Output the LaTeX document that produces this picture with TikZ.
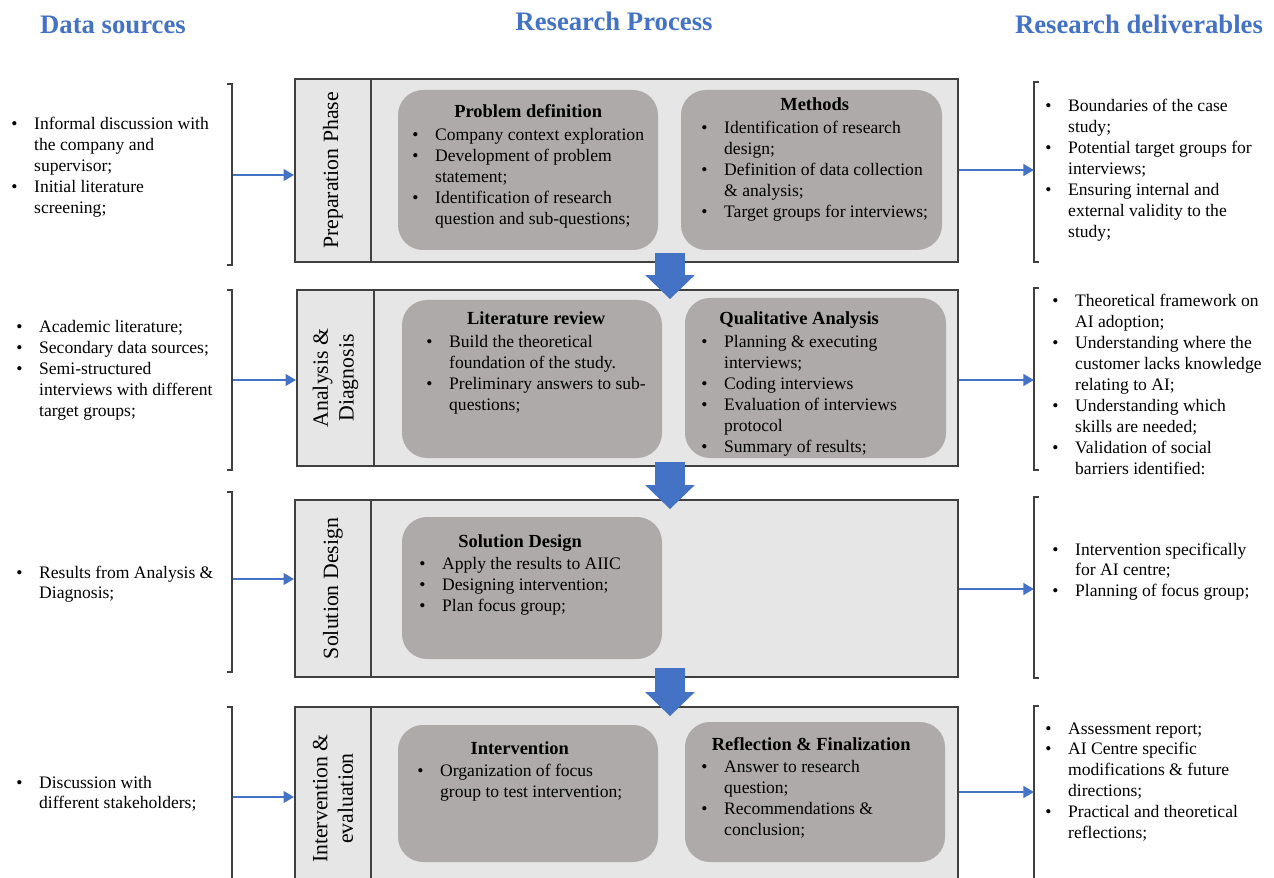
\documentclass[tikz,border=0pt]{standalone}
\usepackage{fontspec}
\setmainfont{Liberation Serif}
\usetikzlibrary{arrows.meta,fit,calc,positioning}

\definecolor{headblue}{HTML}{4472C4}
\definecolor{boxgray}{HTML}{E7E6E6}
\definecolor{cardgray}{HTML}{AEAAAA}
\definecolor{edgegray}{HTML}{404040}

% bullet cell and card title row
\newcommand{\bi}{\makebox[13pt][l]{\textbullet}&}
\newcommand{\cardtitle}[1]{\multicolumn{2}{c}{\fontsize{10.5}{11.9}\selectfont\bfseries #1}\\[1pt]}

\tikzset{
  head/.style={text=headblue, font=\fontsize{15.2}{18}\selectfont\bfseries, anchor=base},
  phase/.style={draw=edgegray, line width=1pt, fill=boxgray, inner sep=0pt},
  card/.style={fill=cardgray, rounded corners=0.5cm, inner sep=0pt},
  list/.style={font=\fontsize{10}{11.9}\selectfont, anchor=base west, inner sep=0pt},
  phaselabel/.style={rotate=90, align=center, font=\fontsize{12.4}{14.6}\selectfont},
  bracket/.style={draw=edgegray, line width=1pt},
  flow/.style={draw=headblue, line width=1.7pt, -{Triangle[length=6pt,width=6.5pt]}},
  bigarrow/.style={draw=headblue, line width=0.6cm, -{Triangle[length=0.48cm,width=0.96cm]}}
}

\begin{document}
\begin{tikzpicture}[x=0.02cm, y=-0.02cm]
\useasboundingbox (0,0) rectangle (1274,878);
\clip (0,0) rectangle (1274,878);

% column headings
\node[head] (hds) at (113,34) {Data sources};
\node[head] (hrp) at (614,31) {Research Process};
\node[head] (hrd) at (1139,34) {Research deliverables};

% phase 1
\node[phase, fit={(295,79)(958,262)}] (p1) {};
\node[phase, fit={(295,79)(371,262)}] (p1l) {};
\node[phaselabel] (p1t) at (p1l.center) {Preparation Phase};
\node[card, fit={(398,90)(658,250)}] (pd) {};
\node[list] (pdt) at (412,118) {\begin{tabular}[t]{@{}l@{}l@{}}\cardtitle{Problem definition}
\bi Company context exploration\\
\bi Development of problem\\
& statement;\\
\bi Identification of research\\
& question and sub-questions;
\end{tabular}};
\node[card, fit={(681,90)(942,250)}] (me) {};
\node[list] (met) at (701,111) {\begin{tabular}[t]{@{}l@{}l@{}}\cardtitle{Methods}
\bi Identification of research\\
& design;\\
\bi Definition of data collection\\
& \& analysis;\\
\bi Target groups for interviews;
\end{tabular}};

% phase 2
\node[phase, fit={(297,290)(958,466)}] (p2) {};
\node[phase, fit={(297,290)(374,466)}] (p2l) {};
\node[phaselabel] (p2t) at (p2l.center) {Analysis \&\\Diagnosis};
\node[card, fit={(402,300)(662,458)}] (lr) {};
\node[list] (lrt) at (426,325) {\begin{tabular}[t]{@{}l@{}l@{}}\cardtitle{Literature review}
\bi Build the theoretical\\
& foundation of the study.\\
\bi Preliminary answers to sub-\\
& questions;
\end{tabular}};
\node[card, fit={(685,298)(946,458)}] (qa) {};
\node[list] (qat) at (701,325) {\begin{tabular}[t]{@{}l@{}l@{}}\cardtitle{Qualitative Analysis}
\bi Planning \& executing\\
& interviews;\\
\bi Coding interviews\\
\bi Evaluation of interviews\\
& protocol\\
\bi Summary of results;
\end{tabular}};

% phase 3
\node[phase, fit={(295,500)(958,677)}] (p3) {};
\node[phase, fit={(295,500)(371,677)}] (p3l) {};
\node[phaselabel] (p3t) at (p3l.center) {Solution Design};
\node[card, fit={(402,517)(662,659)}] (sd) {};
\node[list] (sdt) at (419,547) {\begin{tabular}[t]{@{}l@{}l@{}}\cardtitle{Solution Design}
\bi Apply the results to AIIC\\
\bi Designing intervention;\\
\bi Plan focus group;
\end{tabular}};

% phase 4
\node[phase, fit={(295,707)(958,890)}] (p4) {};
\node[phase, fit={(295,707)(371,890)}] (p4l) {};
\node[phaselabel] (p4t) at (p4l.center) {Intervention \&\\evaluation};
\node[card, fit={(398,725)(658,862)}] (iv) {};
\node[list] (ivt) at (417,754) {\begin{tabular}[t]{@{}l@{}l@{}}\cardtitle{Intervention}
\bi Organization of focus\\
& group to test intervention;
\end{tabular}};
\node[card, fit={(685,722)(945,862)}] (rf) {};
\node[list] (rft) at (701,750) {\begin{tabular}[t]{@{}l@{}l@{}}\cardtitle{Reflection \& Finalization}
\bi Answer to research\\
& question;\\
\bi Recommendations \&\\
& conclusion;
\end{tabular}};

% data sources
\node[list] (ds1t) at (11,130) {\begin{tabular}[t]{@{}l@{}l@{}}
\bi Informal discussion with\\
& the company and\\
& supervisor;\\
\bi Initial literature\\
& screening;
\end{tabular}};
\node[list] (ds2t) at (16,333) {\begin{tabular}[t]{@{}l@{}l@{}}
\bi Academic literature;\\
\bi Secondary data sources;\\
\bi Semi-structured\\
& interviews with different\\
& target groups;
\end{tabular}};
\node[list] (ds3t) at (16,578) {\begin{tabular}[t]{@{}l@{}l@{}}
\bi Results from Analysis \&\\
& Diagnosis;
\end{tabular}};
\node[list] (ds4t) at (16,788) {\begin{tabular}[t]{@{}l@{}l@{}}
\bi Discussion with\\
& different stakeholders;
\end{tabular}};

% deliverables
\node[list] (rd1t) at (1045,112) {\begin{tabular}[t]{@{}l@{}l@{}}
\bi Boundaries of the case\\
& study;\\
\bi Potential target groups for\\
& interviews;\\
\bi Ensuring internal and\\
& external validity to the\\
& study;
\end{tabular}};
\node[list] (rd2t) at (1052,307) {\begin{tabular}[t]{@{}l@{}l@{}}
\bi Theoretical framework on\\
& AI adoption;\\
\bi Understanding where the\\
& customer lacks knowledge\\
& relating to AI;\\
\bi Understanding which\\
& skills are needed;\\
\bi Validation of social\\
& barriers identified:
\end{tabular}};
\node[list] (rd3t) at (1052,555) {\begin{tabular}[t]{@{}l@{}l@{}}
\bi Intervention specifically\\
& for AI centre;\\
\bi Planning of focus group;
\end{tabular}};
\node[list] (rd4t) at (1045,734) {\begin{tabular}[t]{@{}l@{}l@{}}
\bi Assessment report;\\
\bi AI Centre specific\\
& modifications \& future\\
& directions;\\
\bi Practical and theoretical\\
& reflections;
\end{tabular}};

% brackets
\draw[bracket] (227,84) -- (232,84) -- (232,265) -- (227,265);
\draw[bracket] (227,290) -- (232,290) -- (232,470) -- (227,470);
\draw[bracket] (227,492) -- (232,492) -- (232,672) -- (227,672);
\draw[bracket] (227,707) -- (232,707) -- (232,895) -- (227,895);
\draw[bracket] (1039,82) -- (1034,82) -- (1034,262) -- (1039,262);
\draw[bracket] (1039,288) -- (1034,288) -- (1034,470) -- (1039,470);
\draw[bracket] (1039,497) -- (1034,497) -- (1034,678) -- (1039,678);
\draw[bracket] (1039,706) -- (1034,706) -- (1034,895) -- (1039,895);

% inputs and outputs
\coordinate (ds1) at (233,175);
\coordinate (ds2) at (233,380);
\coordinate (ds3) at (233,579);
\coordinate (ds4) at (233,797);
\coordinate (rd1) at (1034,170);
\coordinate (rd2) at (1034,380);
\coordinate (rd3) at (1034,589);
\coordinate (rd4) at (1034,792);
\draw[flow] (ds1) -- (ds1 -| p1.west);
\draw[flow] (ds2) -- (ds2 -| p2.west);
\draw[flow] (ds3) -- (ds3 -| p3.west);
\draw[flow] (ds4) -- (ds4 -| p4.west);
\draw[flow] (rd1 -| p1.east) -- (rd1);
\draw[flow] (rd2 -| p2.east) -- (rd2);
\draw[flow] (rd3 -| p3.east) -- (rd3);
\draw[flow] (rd4 -| p4.east) -- (rd4);

% phase to phase
\coordinate (ax) at (670,0);
\draw[bigarrow] ($(ax |- p1.south)+(0,-10)$) -- ($(ax |- p2.north)+(0,10)$);
\draw[bigarrow] ($(ax |- p2.south)+(0,-5)$) -- ($(ax |- p3.north)+(0,10)$);
\draw[bigarrow] ($(ax |- p3.south)+(0,-10)$) -- ($(ax |- p4.north)+(0,10)$);
\end{tikzpicture}
\end{document}
